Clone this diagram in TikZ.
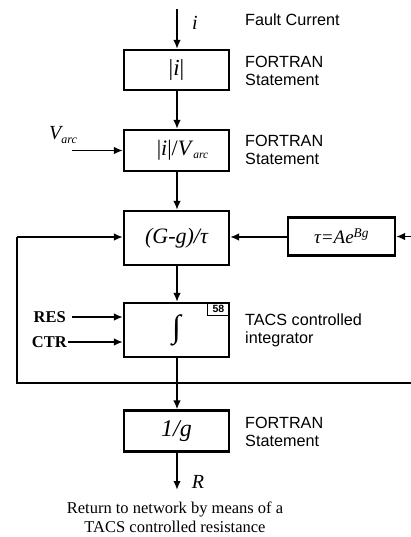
\documentclass[tikz,border=0pt]{standalone}
\usepackage{fontspec}
\setmainfont{Liberation Serif}
\setsansfont{Liberation Sans}
\usetikzlibrary{arrows.meta}
\begin{document}
\begin{tikzpicture}[x=1pt,y=-1pt,
  blk/.style={draw,line width=2.1pt,minimum width=105pt,inner sep=0pt,
    font=\fontsize{19}{22}\selectfont},
  flow/.style={line width=1.8pt,-{Latex[length=9pt,width=7.5pt]}},
  wire/.style={line width=1.8pt},
  note/.style={anchor=west,align=left,inner sep=0pt,
    font=\sffamily\fontsize{16.2}{18}\selectfont},
  lbl/.style={inner sep=0pt,font=\itshape\fontsize{20}{22}\selectfont},
  sig/.style={inner sep=0pt,font=\bfseries\fontsize{16.5}{19}\selectfont},
]
\useasboundingbox (0,0) rectangle (411,537);

% blocks of the arc model
\node[blk,minimum height=40pt,font=\fontsize{23}{25}\selectfont] (abs) at (176.5,70) {|\textit{i}|};
\node[blk,minimum height=41pt,font=\fontsize{22}{24}\selectfont] (div) at (176.5,150.5)
  {\hspace{12pt}|\textit{i}|/\textit{V}\raisebox{-0.3ex}{\fontsize{11.5}{13}\selectfont\itshape arc}};
\node[blk,minimum height=54pt,font=\itshape\fontsize{22}{24}\selectfont] (dg) at (176.5,238) {(G-g)/τ};
\node[blk,minimum width=107pt,minimum height=38pt] (tau) at (341.5,236.5)
  {\itshape τ=Ae\textsuperscript{\itshape Bg}};
\node[blk,minimum height=54pt,font=\fontsize{32}{34}\selectfont] (int) at (176.5,330)
  {\raisebox{-0.1ex}{∫}};
\node[draw,line width=1.2pt,anchor=north east,minimum width=22pt,minimum height=13pt,
  inner sep=0pt,font=\sffamily\bfseries\fontsize{10.5}{12}\selectfont]
  (num) at (int.north east) {58};
\node[blk,minimum height=41pt,font=\itshape\fontsize{24}{26}\selectfont] (inv) at (176.5,431) {1/g};

% free ends
\coordinate (in) at (177,9);
\coordinate (out) at (177,490);
\coordinate (vin) at (72,150.5);
\coordinate (res) at (72,317);
\coordinate (ctr) at (68,342);
\coordinate (tin) at (411,236.5);
\coordinate (fbL) at (17,383);
\coordinate (fbR) at (411,383);
\coordinate (fbT) at (17,237);

% main chain
\draw[flow] (in) -- (abs.north -| in);
\draw[flow] (abs.south -| in) -- (div.north -| in);
\draw[flow] (div.south -| in) -- (dg.north -| in);
\draw[flow] (dg.south -| in) -- (int.north -| in);
\draw[flow] (int.south -| in) -- (inv.north -| in);
\draw[flow] (inv.south -| in) -- (out);

% side inputs
\draw[flow] (vin) -- (div.west |- vin);
\draw[flow] (res) -- (int.west |- res);
\draw[flow] (ctr) -- (int.west |- ctr);
\draw[flow] (tin) -- (tau.east |- tin);
\draw[flow] (tau.west |- fbT) -- (dg.east |- fbT);

% feedback of g
\draw[wire] (fbR) -- (fbL) -- (fbT);
\draw[flow] (fbT) -- (dg.west |- fbT);

% labels
\node[lbl] (li) at (195,23) {i};
\node[lbl] (lR) at (198,482) {R};
\node[lbl,anchor=south west] (lv) at (49,144)
  {V\raisebox{-0.45ex}{\fontsize{12}{14}\selectfont arc}};
\node[sig,anchor=east] (lres) at (66,317) {RES};
\node[sig,anchor=east] (lctr) at (67,342) {CTR};

\node[note] (n0) at (245,20) {Fault Current};
\node[note] (n1) at (245,70.5) {FORTRAN\\Statement};
\node[note] (n2) at (245,150) {FORTRAN\\Statement};
\node[note] (n3) at (245,330) {TACS controlled\\integrator};
\node[note] (n4) at (245,432) {FORTRAN\\Statement};

\node[align=center,inner sep=0pt,font=\fontsize{16.5}{19}\selectfont] (ret) at (175,517.5)
  {Return to network by means of a\\TACS controlled resistance};
\end{tikzpicture}
\end{document}
